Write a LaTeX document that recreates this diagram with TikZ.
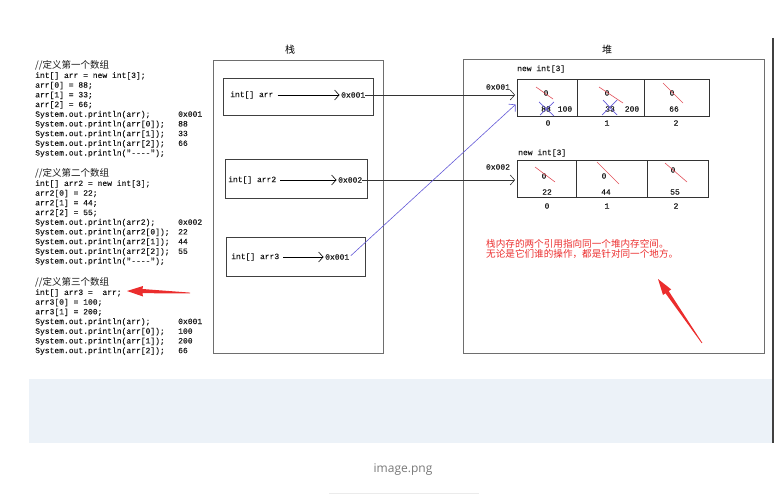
\documentclass[tikz,border=0pt]{standalone}
\usepackage{fontspec}
\setmonofont[FakeBold=0.2]{Liberation Mono}
\newfontfamily\cjk{Noto Sans CJK SC}
\newfontfamily\uifont{Open Sans}
\usetikzlibrary{arrows.meta}

\definecolor{boxgray}{RGB}{110,110,110}
\definecolor{ptrblue}{RGB}{100,90,215}
\definecolor{strikered}{RGB}{225,80,90}
\definecolor{noteRed}{RGB}{235,45,45}
\definecolor{bandblue}{RGB}{236,242,248}
\definecolor{capgray}{RGB}{120,120,120}

\begin{document}
\begin{tikzpicture}[x=1pt,y=-1pt,
  code/.style={font=\ttfamily\fontsize{8}{9.7}\selectfont, inner sep=0pt, text=black!90},
  title/.style={font=\cjk\fontsize{10}{12}\selectfont, inner sep=0pt},
  area/.style={draw=boxgray, line width=0.8pt, inner sep=0pt},
  slot/.style={draw=black!75, line width=0.8pt, inner sep=0pt, minimum height=39pt},
  cell/.style={draw=black!80, line width=0.8pt, inner sep=0pt, minimum height=37pt},
  ptr/.style={-{Straight Barb[length=4.5pt,width=10pt]}, line width=0.6pt, shorten <=4pt, shorten >=1.5pt},
  strike/.style={strikered, line width=0.6pt},
  cross/.style={ptrblue, line width=0.7pt},
  note/.style={font=\cjk\fontsize{9.6}{10}\selectfont, text=noteRed, inner sep=0pt, align=left}]
\useasboundingbox (0,0) rectangle (776,497);

% code
\node[code, anchor=north west] (code1) at (35,60) {\begin{tabular}{@{}p{143pt}@{}l@{}}
{\cjk\fontsize{9.5}{9.7}\selectfont //定义第一个数组} & \\
int[] arr = new int[3]; & \\
arr[0] = 88; & \\
arr[1] = 33; & \\
arr[2] = 66; & \\
System.out.println(arr); & 0x001\\
System.out.println(arr[0]); & 88\\
System.out.println(arr[1]); & 33\\
System.out.println(arr[2]); & 66\\
System.out.println("----"); & \\
\end{tabular}};
\node[code, anchor=north west] (code2) at (35,168) {\begin{tabular}{@{}p{143pt}@{}l@{}}
{\cjk\fontsize{9.5}{9.7}\selectfont //定义第二个数组} & \\
int[] arr2 = new int[3]; & \\
arr2[0] = 22; & \\
arr2[1] = 44; & \\
arr2[2] = 55; & \\
System.out.println(arr2); & 0x002\\
System.out.println(arr2[0]); & 22\\
System.out.println(arr2[1]); & 44\\
System.out.println(arr2[2]); & 55\\
System.out.println("----"); & \\
\end{tabular}};
\node[code, anchor=north west] (code3) at (35,277) {\begin{tabular}{@{}p{143pt}@{}l@{}}
{\cjk\fontsize{9.5}{9.7}\selectfont //定义第三个数组} & \\
int[] arr3 = ~arr; & \\
arr3[0] = 100; & \\
arr3[1] = 200; & \\
System.out.println(arr); & 0x001\\
System.out.println(arr[0]); & 100\\
System.out.println(arr[1]); & 200\\
System.out.println(arr[2]); & 66\\
\end{tabular}};

% stack
\node[title] (stk) at (290,50) {栈};
\node[area, minimum width=170pt, minimum height=293pt] (stack) at (298,206.5) {};
\node[slot, minimum width=150pt, minimum height=37pt] (s1) at (298,96.5) {};
\node[slot, minimum width=142pt] (s2) at (296,178.5) {};
\node[slot, minimum width=139pt] (s3) at (295.5,256.5) {};
\node[code, anchor=west] (v1) at (230,95) {int[] arr};
\node[code, anchor=west] (p1) at (341,95) {0x001};
\node[code, anchor=west] (v2) at (228,180) {int[] arr2};
\node[code, anchor=west] (p2) at (338,180) {0x002};
\node[code, anchor=west] (v3) at (231,257) {int[] arr3};
\node[code, anchor=west] (p3) at (325,257) {0x001};
\draw[ptr] (v1) -- (p1);
\draw[ptr] (v2) -- (p2);
\draw[ptr] (v3) -- (p3);

% heap
\node[title] (hp) at (607,50) {堆};
\node[area, minimum width=301pt, minimum height=294pt] (heap) at (613.5,206) {};
\node[code, anchor=west] (n1) at (517,69) {new int[3]};
\node[cell, minimum width=60pt] (a0) at (547,97.5) {};
\node[cell, minimum width=67pt] (a1) at (610.5,97.5) {};
\node[cell, minimum width=65pt] (a2) at (676.5,97.5) {};
\node[code] (ia0) at (548,123) {0};
\node[code] (ia1) at (607,123) {1};
\node[code] (ia2) at (676,123) {2};
\node[code, anchor=west] (n2) at (518,153) {new int[3]};
\node[cell, minimum width=59pt] (b0) at (546.5,178.5) {};
\node[cell, minimum width=71pt] (b1) at (611.5,178.5) {};
\node[cell, minimum width=61pt] (b2) at (677.5,178.5) {};
\node[code] (ib0) at (547,206) {0};
\node[code] (ib1) at (607,206) {1};
\node[code] (ib2) at (676,206) {2};
\node[code] (h1) at (498,87) {0x001};
\node[code] (h2) at (498,167) {0x002};

% first array
\node[code] (za0) at (546,93) {0};
\node[code] (za1) at (607,93) {0};
\node[code] (za2) at (672,93) {0};
\draw[strike] ([shift={(-10,-6)}]za0.center) -- ([shift={(7,6)}]za0.center);
\draw[strike] ([shift={(-8,-6)}]za1.center) -- ([shift={(16,10)}]za1.center);
\draw[strike] ([shift={(-9,-10)}]za2.center) -- ([shift={(11,10)}]za2.center);
\node[code] (ka0) at (546,109) {88};
\node[code] (ka1) at (610,109) {33};
\node[code] (ka2) at (674,109) {66};
\draw[cross] ([shift={(-7,-7)}]ka0.center) -- ([shift={(8,7)}]ka0.center);
\draw[cross] ([shift={(-6,6)}]ka0.center) -- ([shift={(8,-7)}]ka0.center);
\draw[cross] ([shift={(-7,-9)}]ka1.center) -- ([shift={(7,6)}]ka1.center);
\draw[cross] ([shift={(-8,6)}]ka1.center) -- ([shift={(7,-9)}]ka1.center);
\node[code] (ma0) at (565,109) {100};
\node[code] (ma1) at (632,109) {200};

% second array
\node[code] (zb0) at (544,176) {0};
\node[code] (zb1) at (604,176) {0};
\node[code] (zb2) at (673,170) {0};
\draw[strike] ([shift={(-9,-9)}]zb0.center) -- ([shift={(11,6)}]zb0.center);
\draw[strike] ([shift={(-7,-14)}]zb1.center) -- ([shift={(15,8)}]zb1.center);
\draw[strike] ([shift={(-8,-7)}]zb2.center) -- ([shift={(14,12)}]zb2.center);
\node[code] (kb0) at (547,192) {22};
\node[code] (kb1) at (606,192) {44};
\node[code] (kb2) at (675,192) {55};

% references
\draw[ptr, black!80, shorten <=0pt] (p1.east) -- (p1 -| a0.west);
\draw[ptr, black!80, shorten <=0pt] (p2.east) -- (p2 -| b0.west);
\draw[ptr, ptrblue, shorten <=2pt] (p3.east) -- ([yshift=-6pt]a0.west);

\node[note, anchor=west] (msg) at (486,248.5) {栈内存的两个引用指向同一个堆内存空间。\\无论是它们谁的操作，都是针对同一个地方。};
\fill[noteRed] (127,291) -- (143,286) -- (142.5,289) -- (190,292.6) -- (190,293.4) -- (142.5,293.2) -- (143,296.5) -- cycle;
\fill[noteRed] (658,279) -- (671.2,289.4) -- (668.7,291.1) -- (702.3,342.8) -- (701.7,343.2) -- (665.5,293.3) -- (663,295) -- cycle;

% page
\fill[bandblue] (29,379) rectangle (772,443);
\draw[black!75, line width=2pt] (773,38) -- (773,443);
\node[font=\uifont\fontsize{12}{14}\selectfont, text=capgray, inner sep=0pt] (cap) at (403,470) {image.png};
\draw[black!8, line width=1pt] (329,493) -- (479,493);
\end{tikzpicture}
\end{document}
